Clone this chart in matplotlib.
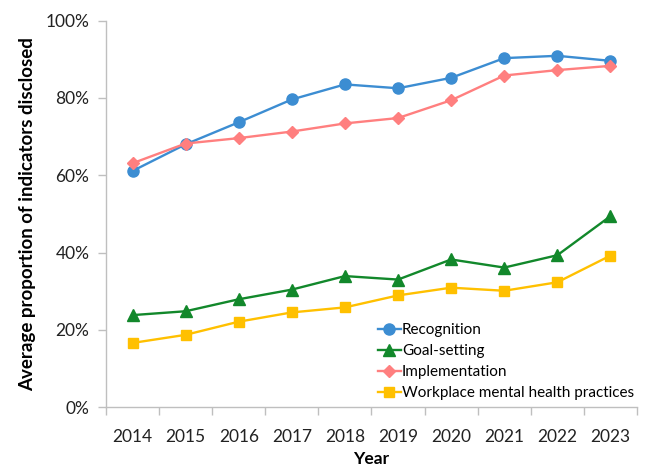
import matplotlib.pyplot as plt
from matplotlib.ticker import PercentFormatter

plt.rcParams['font.family'] = ['Lato', 'DejaVu Sans']

years = [2014, 2015, 2016, 2017, 2018, 2019, 2020, 2021, 2022, 2023]
recognition = [61.1, 68.0, 73.7, 79.6, 83.5, 82.5, 85.2, 90.3, 90.9, 89.6]
goal_setting = [23.8, 24.8, 27.9, 30.4, 33.9, 33.0, 38.2, 36.1, 39.3, 49.4]
implementation = [63.1, 68.2, 69.6, 71.3, 73.4, 74.8, 79.4, 85.8, 87.2, 88.3]
workplace = [16.6, 18.7, 22.1, 24.5, 25.8, 28.9, 30.9, 30.1, 32.3, 39.2]

fig = plt.figure(figsize=(6.49, 4.69), dpi=100)
ax = fig.add_axes([0.1633, 0.132, 0.8182, 0.824])

x = list(range(len(years)))
ax.plot(x, recognition, color='#3C8DD2', marker='o', markersize=8, lw=1.7, label='Recognition', zorder=3)
ax.plot(x, goal_setting, color='#12882B', marker='^', markersize=8, lw=1.7, label='Goal-setting', zorder=3)
ax.plot(x, implementation, color='#FF7F7F', marker='D', markersize=6, lw=1.7, label='Implementation', zorder=3)
ax.plot(x, workplace, color='#FFC000', marker='s', markersize=7.5, lw=1.7, label='Workplace mental health practices', zorder=3)

ax.set_xlim(-0.5, len(years) - 0.5)
ax.set_ylim(0, 100)
ax.set_yticks([0, 20, 40, 60, 80, 100])
ax.yaxis.set_major_formatter(PercentFormatter(decimals=0))
ax.set_xticks(x)
ax.set_xticklabels([str(y) for y in years])
ax.set_xticks([i - 0.5 for i in range(len(years) + 1)], minor=True)
ax.tick_params(axis='x', which='major', length=0, pad=16, labelsize=12.5, labelcolor='#222222')
ax.tick_params(axis='x', which='minor', length=6, color='#BFBFBF', width=1)
ax.tick_params(axis='y', length=6, color='#BFBFBF', width=1, labelsize=12.5, labelcolor='#222222', pad=6)

for side in ['top', 'right']:
    ax.spines[side].set_visible(False)
for side in ['left', 'bottom']:
    ax.spines[side].set_color('#BFBFBF')
    ax.spines[side].set_linewidth(1)

ax.set_xlabel('Year', fontsize=12.5, fontweight='bold', labelpad=4)
ax.set_ylabel('Average proportion of indicators disclosed', fontsize=13.5, fontweight='bold', labelpad=7)

ax.legend(loc='lower right', bbox_to_anchor=(1.012, -0.005), frameon=False, fontsize=11,
          handlelength=1.5, handletextpad=0.1, labelspacing=0.45, borderaxespad=0.2)

fig.savefig('out.png', dpi=100)
